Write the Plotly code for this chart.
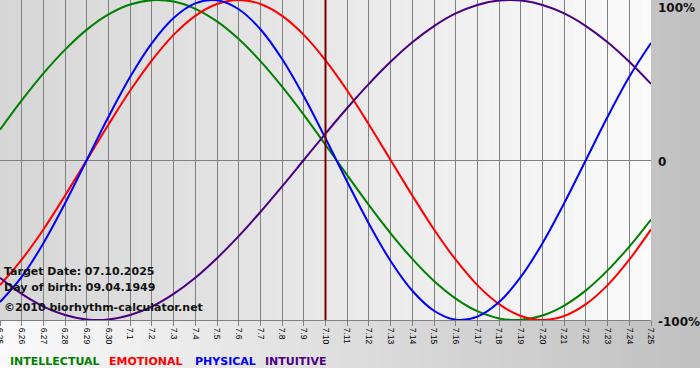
import plotly.graph_objects as go

# ---------------- data ----------------
dates = ["6.25", "6.26", "6.27", "6.28", "6.29", "6.30",
         "7.1", "7.2", "7.3", "7.4", "7.5", "7.6", "7.7", "7.8", "7.9", "7.10",
         "7.11", "7.12", "7.13", "7.14", "7.15", "7.16", "7.17", "7.18", "7.19",
         "7.20", "7.21", "7.22", "7.23", "7.24", "7.25"]

intellectual = [18.9, 37.2, 54.1, 69.0, 81.5, 91.0, 97.2, 99.9, 99.0, 94.5, 86.6,
                75.6, 61.8, 45.8, 28.2, 9.5, -9.5, -28.2, -45.8, -61.8, -75.6,
                -86.6, -94.5, -99.0, -99.9, -97.2, -91.0, -81.5, -69.0, -54.1, -37.2]
emotional = [-78.2, -62.3, -43.4, -22.2, 0.0, 22.2, 43.4, 62.3, 78.2, 90.1, 97.5,
             100.0, 97.5, 90.1, 78.2, 62.3, 43.4, 22.2, 0.0, -22.2, -43.4,
             -62.3, -78.2, -90.1, -97.5, -100.0, -97.5, -90.1, -78.2, -62.3, -43.4]
physical = [-88.8, -73.1, -52.0, -27.0, 0.0, 27.0, 52.0, 73.1, 88.8, 97.9, 99.8,
            94.2, 81.7, 63.1, 39.8, 13.6, -13.6, -39.8, -63.1, -81.7, -94.2,
            -99.8, -97.9, -88.8, -73.1, -52.0, -27.0, 0.0, 27.0, 52.0, 73.1]
intuitive = [-73.6, -83.7, -91.6, -96.9, -99.7, -99.7, -96.9, -91.6, -83.7, -73.6,
             -61.4, -47.6, -32.5, -16.5, 0.0, 16.5, 32.5, 47.6, 61.4, 73.6, 83.7,
             91.6, 96.9, 99.7, 99.7, 96.9, 91.6, 83.7, 73.6, 61.4, 47.6]

target_date = "7.10"
y_tick_vals = [100, 0, -100]
y_tick_text = ["100%", "0", "-100%"]
series_names = ["INTELLECTUAL", "EMOTIONAL", "PHYSICAL", "INTUITIVE"]
info_lines = ["Target Date: 07.10.2025", "Day of birth: 09.04.1949",
              "\u00a92010 biorhythm-calculator.net"]

# ---------------- styling ----------------
W, H = 700, 380
PL, PR, PT, PB = 0, 49, 0, 60          # margins
PW, PH = W - PL - PR, H - PT - PB      # plot area size (651 x 320)
colors = ["#008000", "#ff0000", "#0000ff", "#4b0082"]
FONT = "DejaVu Sans"


def px(x):      # pixel x -> paper x
    return (x - PL) / PW


def py(y):      # pixel y -> paper y
    return (PT + PH - y) / PH


x_idx = list(range(len(dates)))
fig = go.Figure()
for name, vals, col in zip(series_names, [intellectual, emotional, physical, intuitive], colors):
    fig.add_trace(go.Scatter(x=x_idx, y=vals, mode="lines", name=name,
                             line=dict(color=col, width=2, shape="spline"),
                             hoverinfo="skip"))

shapes = []
# outer background gradient (white -> grey), down to y=368
n = 70
for i in range(n):
    x0 = W * i / n
    x1 = W * (i + 1) / n + 0.6
    g = round(250 + (192 - 250) * (i + 0.5) / n)
    shapes.append(dict(type="rect", xref="paper", yref="paper",
                       x0=px(x0), x1=px(x1), y0=py(368), y1=py(0),
                       fillcolor=f"rgb({g},{g},{g})", line=dict(width=0),
                       layer="below"))
# plot area gradient (grey -> white)
n = 66
for i in range(n):
    x0 = PW * i / n
    x1 = PW * (i + 1) / n + 0.6
    g = round(214 + (250 - 214) * (i + 0.5) / n)
    shapes.append(dict(type="rect", xref="paper", yref="paper",
                       x0=px(x0), x1=min(px(x1), 1.0), y0=0, y1=1,
                       fillcolor=f"rgb({g},{g},{g})", line=dict(width=0),
                       layer="below"))
# target date line
t_idx = dates.index(target_date)
shapes.append(dict(type="line", xref="x", yref="paper", x0=t_idx, x1=t_idx,
                   y0=0, y1=1, opacity=1, line=dict(color="#7a0000", width=2),
                   layer="above"))

annotations = []
# info text
for txt, yc in zip(info_lines, [271, 287, 307]):
    annotations.append(dict(xref="paper", yref="paper", x=px(2), y=py(yc),
                            xanchor="left", yanchor="middle", showarrow=False,
                            text=f"<b>{txt}</b>",
                            font=dict(family=FONT, size=11, color="#111111")))
# y labels on the right
for txt, yc in zip(y_tick_text, [8, 162, 322]):
    annotations.append(dict(xref="paper", yref="paper", x=px(656), y=py(yc),
                            xanchor="left", yanchor="middle", showarrow=False,
                            text=f"<b>{txt}</b>",
                            font=dict(family=FONT, size=12, color="#111111")))
# legend
for txt, col, xl in zip(series_names, colors, [8, 107, 193, 263]):
    annotations.append(dict(xref="paper", yref="paper", x=px(xl), y=py(361),
                            xanchor="left", yanchor="middle", showarrow=False,
                            text=f"<b>{txt}</b>",
                            font=dict(family=FONT, size=11, color=col)))

fig.update_layout(
    width=W, height=H,
    margin=dict(l=PL, r=PR, t=PT, b=PB, pad=0, autoexpand=False),
    paper_bgcolor="#ffffff",
    plot_bgcolor="rgba(0,0,0,0)",
    showlegend=False,
    shapes=shapes,
    annotations=annotations,
    xaxis=dict(range=[0, len(dates) - 1], tickvals=x_idx, ticktext=dates,
               automargin=False, ticklabeloverflow="allow",
               showgrid=True, gridcolor="#808080", gridwidth=1,
               ticks="outside", ticklen=5, tickcolor="#808080",
               tickangle=90,
               tickfont=dict(family="Liberation Sans", size=8.5, color="#000000"),
               showline=True, linecolor="#808080", linewidth=1, mirror=True,
               zeroline=False, fixedrange=True),
    yaxis=dict(range=[-100, 100], tickvals=y_tick_vals, showticklabels=False,
               automargin=False,
               showgrid=True, gridcolor="#808080", gridwidth=1,
               zeroline=False, ticks="", showline=False, fixedrange=True),
)

fig.write_html("out.html", config={"displayModeBar": False},
               post_script="document.body.style.margin='0';document.body.style.padding='0';")
